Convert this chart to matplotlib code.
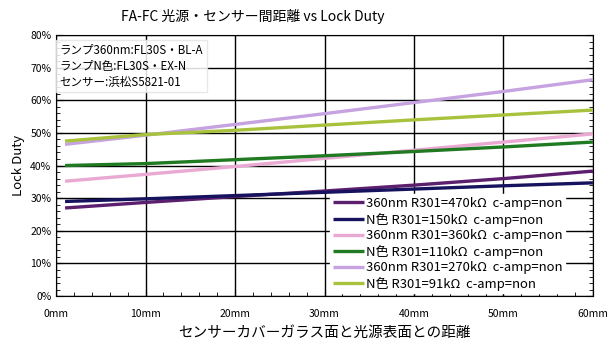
import numpy as np
import matplotlib.pyplot as plt
from matplotlib.ticker import MultipleLocator, FuncFormatter

plt.rcParams['font.family'] = ['Noto Sans CJK JP', 'DejaVu Sans']

# データ (距離 mm と Lock Duty %)
dist = [1, 10, 20, 30, 40, 50, 60]
duty_360_470k = [27.0, 28.7, 30.5, 32.2, 34.0, 36.0, 38.3]
duty_n_150k = [29.0, 29.8, 30.8, 31.8, 32.8, 33.8, 34.7]
duty_360_360k = [35.2, 37.3, 39.7, 42.2, 44.7, 47.2, 49.7]
duty_n_110k = [40.0, 40.6, 41.8, 43.0, 44.3, 45.7, 47.2]
duty_360_270k = [46.5, 49.3, 52.6, 55.9, 59.3, 62.7, 66.3]
duty_n_91k = [47.5, 49.5, 50.8, 52.4, 54.0, 55.5, 57.0]

labels = ['360nm R301=470kΩ  c-amp=non',
          'N色 R301=150kΩ  c-amp=non',
          '360nm R301=360kΩ  c-amp=non',
          'N色 R301=110kΩ  c-amp=non',
          '360nm R301=270kΩ  c-amp=non',
          'N色 R301=91kΩ  c-amp=non']
series = [duty_360_470k, duty_n_150k, duty_360_360k, duty_n_110k, duty_360_270k, duty_n_91k]
colors = ['#5c1f6e', '#16125e', '#e9a9d2', '#1f7a22', '#c6a2e0', '#a9c23e']

fig = plt.figure(figsize=(6.1, 3.5), dpi=100)
ax = fig.add_axes([0.092, 0.154, 0.88, 0.746])

for y, c, lab in zip(series, colors, labels):
    ax.plot(dist, y, color=c, lw=2.4, label=lab, solid_capstyle='butt', zorder=3)

ax.set_xlim(0, 60)
ax.set_ylim(0, 80)
ax.xaxis.set_major_locator(MultipleLocator(10))
ax.xaxis.set_minor_locator(MultipleLocator(2))
ax.yaxis.set_major_locator(MultipleLocator(10))
ax.yaxis.set_minor_locator(MultipleLocator(2))
ax.xaxis.set_major_formatter(FuncFormatter(lambda v, p: '%dmm' % v))
ax.yaxis.set_major_formatter(FuncFormatter(lambda v, p: '%d%%' % v))
ax.grid(True, which='major', color='black', lw=1.0, zorder=1)
ax.tick_params(which='both', direction='in', right=True, labelsize=7.5, color='black')
ax.tick_params(which='major', length=5)
ax.tick_params(which='minor', length=3)
ax.tick_params(axis='x', pad=9)
for s in ax.spines.values():
    s.set_color('black')

fig.text(253 / 610, 1 - 16 / 350, 'FA-FC 光源・センサー間距離 vs Lock Duty',
         fontsize=10, ha='center', va='center')
ax.set_xlabel('センサーカバーガラス面と光源表面との距離', fontsize=10.5, labelpad=5)
ax.set_ylabel('Lock Duty', fontsize=9.5)

ax.text(0.4, 77.3, 'ランプ360nm:FL30S・BL-A\nランプN色:FL30S・EX-N\nセンサー:浜松S5821-01',
        fontsize=8.3, va='top', ha='left', linespacing=1.3, zorder=4,
        bbox=dict(boxstyle='square,pad=0.3', fc='white', ec='#e4e4e4', alpha=0.85))

leg = ax.legend(loc='lower right', bbox_to_anchor=(0.95, 0.005), fontsize=9.4,
                frameon=True, fancybox=False, edgecolor='white', framealpha=1.0,
                handlelength=2.4, handletextpad=0.1, labelspacing=0.2,
                borderpad=0.2, borderaxespad=0.1)
leg.set_zorder(2.5)

fig.savefig('out.png', dpi=100)
